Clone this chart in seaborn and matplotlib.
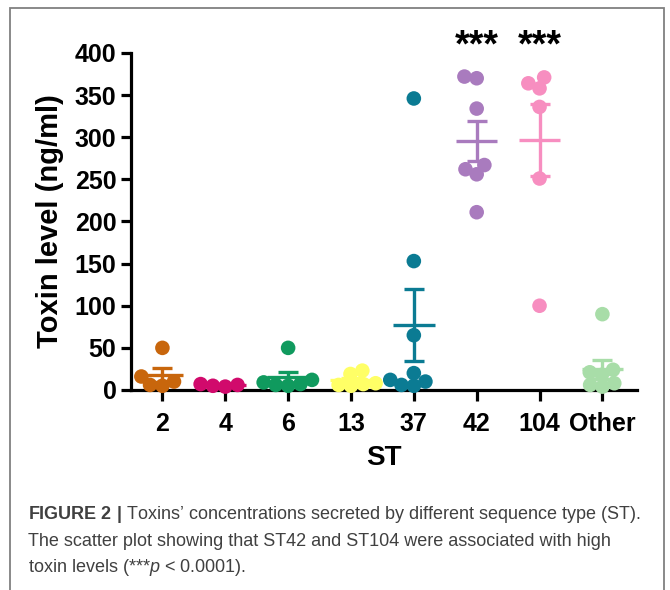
import numpy as np
import pandas as pd
import matplotlib
matplotlib.use("Agg")
import matplotlib.pyplot as plt
import seaborn as sns
from matplotlib.collections import PathCollection
from matplotlib.patches import Rectangle

# Toxin level (ng/ml) per sequence type
st_order = ["2", "4", "6", "13", "37", "42", "104", "Other"]
st2 = [50, 16, 10, 6, 5]
st4 = [7, 6, 5, 4]
st6 = [50, 12, 9, 7, 6, 5]
st13 = [23, 19, 8, 7, 6, 5]
st37 = [346, 153, 65, 20, 12, 10, 6, 5]
st42 = [372, 370, 334, 267, 262, 256, 211]
st104 = [371, 364, 358, 336, 251, 100]
other = [90, 24, 21, 18, 8, 6, 4]
st_colors = ["#C8660C", "#D10A6C", "#109A5E", "#FFFF66",
             "#0B7B93", "#A97BBE", "#F78EC0", "#A8DDA8"]
stars = ["", "", "", "", "", "***", "***", ""]

caption_lines = [
    r"$\mathbf{FIGURE\ 2\ |}$ Toxins’ concentrations secreted by different sequence type (ST).",
    "The scatter plot showing that ST42 and ST104 were associated with high",
    r"toxin levels (***$\mathit{p}$ < 0.0001).",
]

groups = [st2, st4, st6, st13, st37, st42, st104, other]
df = pd.DataFrame({
    "ST": np.repeat(st_order, [len(g) for g in groups]),
    "toxin": np.concatenate(groups),
})

plt.rcParams["font.family"] = ["Liberation Sans", "DejaVu Sans"]
plt.rcParams["mathtext.fontset"] = "custom"
plt.rcParams["mathtext.rm"] = "Liberation Sans"
plt.rcParams["mathtext.bf"] = "Liberation Sans:bold"
plt.rcParams["mathtext.it"] = "Liberation Sans:italic"

fig = plt.figure(figsize=(6.7, 5.9), dpi=100)
ax = fig.add_axes([0.1955, 0.339, 0.7552, 0.5712])
ax.set_ylim(0, 400)
ax.set_xlim(-0.5, 7.55)

# swarm laid out with slightly smaller dots, then drawn bigger so they overlap
# like the GraphPad scatter
sns.swarmplot(data=df, x="ST", y="toxin", hue="ST", order=st_order,
              hue_order=st_order, palette=st_colors, size=8.5, legend=False,
              clip_on=False, zorder=3, ax=ax)
ax.set_xlim(-0.5, 7.55)
fig.canvas.draw()
for coll in ax.collections:
    if isinstance(coll, PathCollection):
        if "draw" in vars(coll):
            del coll.draw
        coll.set_sizes([10.5 ** 2])

# mean +/- SEM bars
stats = df.groupby("ST", sort=False)["toxin"].agg(["mean", "sem"]).reindex(st_order)
for i, (st, row) in enumerate(stats.iterrows()):
    c = st_colors[i]
    ax.errorbar(i, row["mean"], yerr=row["sem"], fmt="none", ecolor=c,
                elinewidth=2.4, capsize=7.2, capthick=2.4, zorder=4, clip_on=False)
    ax.hlines(row["mean"], i - 0.33, i + 0.33, color=c, linewidth=2.4, zorder=4)

for i, s in enumerate(stars):
    if s:
        ax.text(i, 396, s, ha="center", va="baseline", fontsize=27,
                fontweight="bold", clip_on=False)

ax.set_yticks(range(0, 401, 50))
sns.despine(ax=ax)
for side in ["left", "bottom"]:
    ax.spines[side].set_linewidth(2.3)
ax.tick_params(width=2.3, length=7.5, labelsize=18, pad=3)
ax.tick_params(axis="x", length=8, pad=8)
for lab in ax.get_xticklabels() + ax.get_yticklabels():
    lab.set_fontweight("bold")
ax.set_xlabel("ST", fontsize=20, fontweight="bold", labelpad=6)
ax.set_ylabel("Toxin level (ng/ml)", fontsize=21, fontweight="bold", labelpad=8)

# frame around the figure (bottom edge is cut off in the original)
fig.patches.append(Rectangle((10 / 670, -0.05), 654 / 670, 1.05 - 8 / 590,
                             transform=fig.transFigure, fill=False,
                             edgecolor="#808080", linewidth=1.3))

for k, line in enumerate(caption_lines):
    fig.text(28 / 670, (590 - 519 - 26.5 * k) / 590, line, fontsize=13,
             color="#404040", va="baseline")

fig.savefig("out.png", dpi=100)
